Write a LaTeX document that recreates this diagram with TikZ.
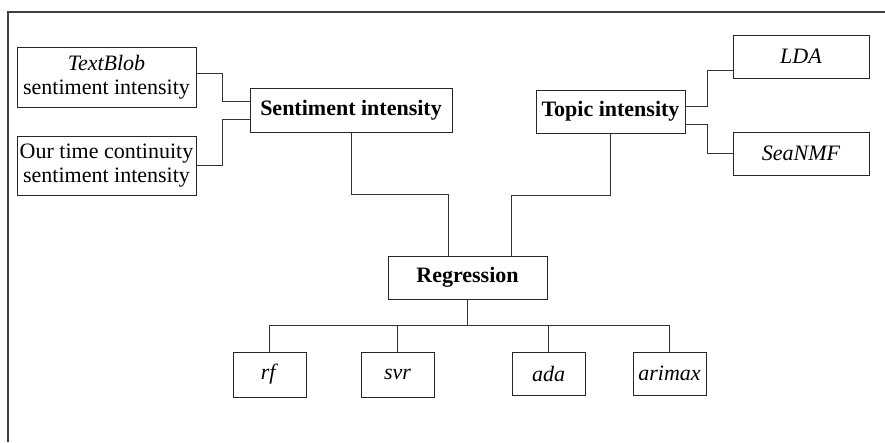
\documentclass[tikz,border=0pt]{standalone}
\usepackage{fontspec}
\setmainfont{Liberation Serif}
\usetikzlibrary{positioning}

\tikzset{
  box/.style={draw=black!85, line width=0.8pt, inner sep=0pt, align=center,
    font=\fontsize{22}{24}\selectfont},
  link/.style={draw=black!80, line width=0.8pt},
}

\begin{document}
\begin{tikzpicture}[x=1pt, y=-1pt]
  \useasboundingbox (0, 0) rectangle (885, 442);
  % Draw frame
  \draw [black!75, line width=1.3pt] (885, 12) -- (8, 12) -- (8, 442);
  % Draw sentiment boxes
  \node [box, minimum width=179pt, minimum height=60pt] (textblob) at (106.5, 77) {\textit{TextBlob}\\sentiment intensity};
  \node [box, minimum width=179pt, minimum height=59pt] (ourtime) at (106.5, 165.5) {Our time continuity\\sentiment intensity};
  \node [box, minimum width=202pt, minimum height=44pt] (sentiment) at (351, 110) {\textbf{Sentiment intensity}};
  % Draw topic boxes
  \node [box, minimum width=149pt, minimum height=43pt] (topic) at (610.5, 111.5) {\textbf{Topic intensity}};
  \node [box, minimum width=136pt, minimum height=43pt] (lda) at (801, 56.5) {\textit{LDA}};
  \node [box, minimum width=136pt, minimum height=43pt] (seanmf) at (801, 153.5) {\textit{SeaNMF}};
  % Draw regression boxes
  \node [box, minimum width=159pt, minimum height=43pt] (regression) at (467.5, 277.5) {\textbf{Regression}};
  \node [box, minimum width=73pt, minimum height=45pt] (rf) at (269.5, 374.5) {\textit{rf}};
  \node [box, minimum width=73pt, minimum height=45pt] (svr) at (397.5, 374.5) {\textit{svr}};
  \node [box, minimum width=73pt, minimum height=43pt] (ada) at (548.5, 373.5) {\textit{ada}};
  \node [box, minimum width=73pt, minimum height=43pt] (arimax) at (669.5, 373.5) {\textit{arimax}};
  % Draw connectors
  \draw [link] ([yshift=4pt]textblob.east) -- ++(26, 0) |- ([yshift=9pt]sentiment.west);
  \draw [link] (ourtime.east) -- ++(26, 0) |- ([yshift=-9pt]sentiment.west);
  \draw [link] ([yshift=5.5pt]topic.east) -- ++(22, 0) |- ([yshift=-13.5pt]lda.west);
  \draw [link] ([yshift=-12.5pt]topic.east) -- ++(22, 0) |- (seanmf.west);
  \draw [link] (sentiment.south) -- ++(0, 62) -| ([xshift=-19.5pt]regression.north);
  \draw [link] (topic.south) -- ++(0, 62) -| ([xshift=43.5pt]regression.north);
  \coordinate (bus) at ([yshift=-26pt]regression.south);
  \draw [link, line width=1.2pt] (regression.south) -- (bus);
  \draw [link] (bus) -| (rf.north);
  \draw [link] (bus) -| (svr.north);
  \draw [link] (bus) -| (ada.north);
  \draw [link] (bus) -| (arimax.north);
\end{tikzpicture}
\end{document}
